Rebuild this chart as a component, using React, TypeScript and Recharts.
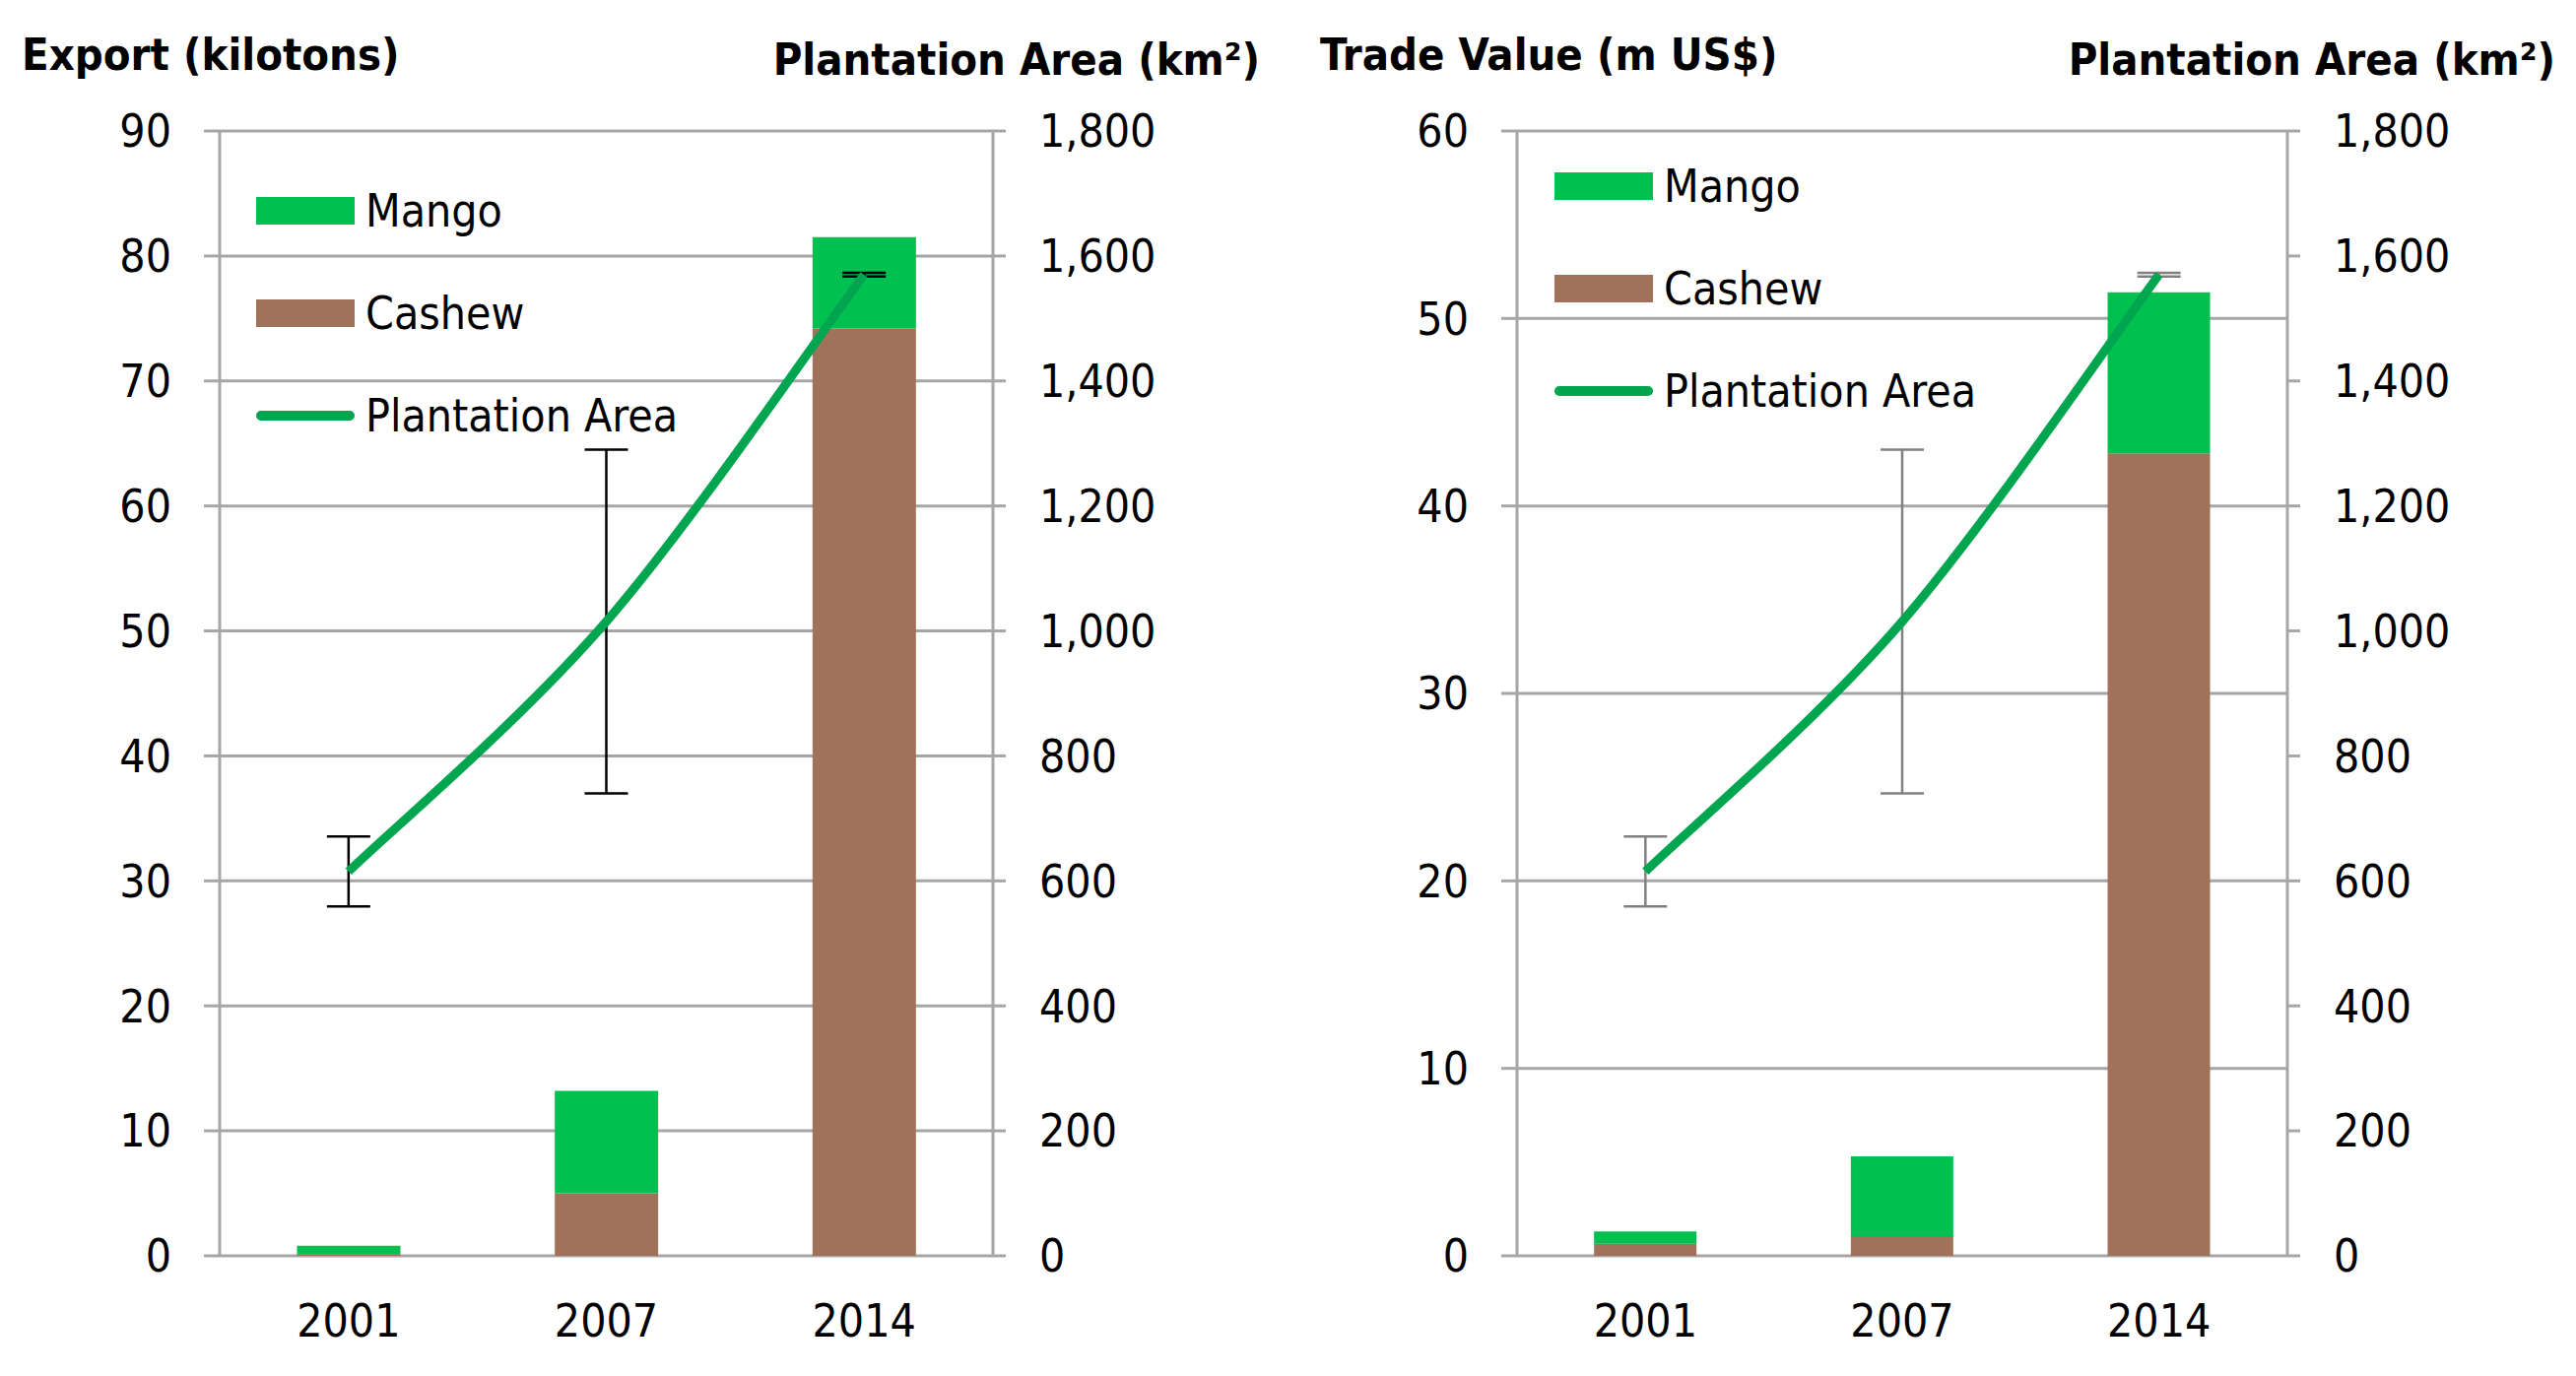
import React from 'react';
import {
  ComposedChart,
  Bar,
  Line,
  XAxis,
  YAxis,
  CartesianGrid,
  ErrorBar,
  Legend,
} from 'recharts';

// values
const YEARS = ['2001', '2007', '2014'];
const EXPORT_CASHEW = [0.1, 5.0, 74.2];
const EXPORT_MANGO = [0.7, 8.2, 7.3];
const TRADE_CASHEW = [0.65, 1.05, 42.8];
const TRADE_MANGO = [0.65, 4.25, 8.6];
const AREA = [615, 1015, 1570];
const AREA_ERR = [56, 275, 3];

const EXPORT_TICKS = [0, 10, 20, 30, 40, 50, 60, 70, 80, 90];
const TRADE_TICKS = [0, 10, 20, 30, 40, 50, 60];
const AREA_TICKS = [0, 200, 400, 600, 800, 1000, 1200, 1400, 1600, 1800];
const EDGE_TICKS = [0, 1, 2, 3];

const MANGO = '#00c050';
const CASHEW = '#a0725a';
const LINE = '#00a54f';
const GRID = '#a6a6a6';
const FONT = "'Liberation Sans Narrow', 'DejaVu Sans Condensed', sans-serif";
const TICK = { fill: '#000', fontSize: 46 };

const exportData = YEARS.map((year, i) => ({
  year,
  cashew: EXPORT_CASHEW[i],
  mango: EXPORT_MANGO[i],
  area: AREA[i],
  areaErr: AREA_ERR[i],
}));

const tradeData = YEARS.map((year, i) => ({
  year,
  cashew: TRADE_CASHEW[i],
  mango: TRADE_MANGO[i],
  area: AREA[i],
  areaErr: AREA_ERR[i],
}));

const fmtArea = (v: number) => v.toLocaleString('en-US');

// spreadsheet-style smoothed line (bezier with 1/6 tangents)
function smoothCurve(context: any) {
  let pts: number[][] = [];
  return {
    areaStart() {},
    areaEnd() {},
    lineStart() {
      pts = [];
    },
    point(x: number, y: number) {
      pts.push([+x, +y]);
    },
    lineEnd() {
      if (!pts.length) return;
      context.moveTo(pts[0][0], pts[0][1]);
      for (let i = 0; i < pts.length - 1; i++) {
        const p0 = pts[i - 1] || pts[i];
        const p1 = pts[i];
        const p2 = pts[i + 1];
        const p3 = pts[i + 2] || pts[i + 1];
        context.bezierCurveTo(
          p1[0] + (p2[0] - p0[0]) / 6,
          p1[1] + (p2[1] - p0[1]) / 6,
          p2[0] - (p3[0] - p1[0]) / 6,
          p2[1] - (p3[1] - p1[1]) / 6,
          p2[0],
          p2[1],
        );
      }
    },
  };
}

function LegendBox() {
  const rows = [
    { name: 'Mango', kind: 'box', color: MANGO },
    { name: 'Cashew', kind: 'box', color: CASHEW },
    { name: 'Plantation Area', kind: 'line', color: LINE },
  ];
  return (
    <div style={{ fontSize: 46, color: '#000', lineHeight: 1 }}>
      {rows.map((r) => (
        <div key={r.name} style={{ display: 'flex', alignItems: 'center', height: 104 }}>
          <div
            style={{
              width: 100,
              height: r.kind === 'box' ? 28 : 10,
              borderRadius: r.kind === 'box' ? 0 : 5,
              background: r.color,
              marginRight: 11,
            }}
          />
          <span>{r.name}</span>
        </div>
      ))}
    </div>
  );
}

type PanelProps = {
  data: typeof exportData;
  leftMax: number;
  leftTicks: number[];
  leftWidth: number;
  rightWidth: number;
  width: number;
  errColor: string;
  legendLeft: number;
  legendTop: number;
};

function Panel({ data, leftMax, leftTicks, leftWidth, rightWidth, width, errColor, legendLeft, legendTop }: PanelProps) {
  return (
    <ComposedChart
      width={width}
      height={1397}
      data={data}
      margin={{ top: 133, right: 0, bottom: 0, left: 0 }}
      barCategoryGap="30%"
    >
      <CartesianGrid yAxisId="left" vertical={false} stroke={GRID} strokeWidth={3} />
      <XAxis
        xAxisId="edges"
        type="number"
        domain={[0, 3]}
        ticks={EDGE_TICKS}
        tick={false}
        tickSize={16}
        height={0}
        axisLine={{ stroke: GRID, strokeWidth: 3 }}
        tickLine={{ stroke: GRID, strokeWidth: 3 }}
      />
      <XAxis
        dataKey="year"
        height={122}
        axisLine={false}
        tickLine={false}
        tickSize={0}
        tickMargin={49}
        tick={TICK}
      />
      <YAxis
        yAxisId="left"
        domain={[0, leftMax]}
        ticks={leftTicks}
        width={leftWidth}
        tickSize={16}
        tickMargin={33}
        tick={TICK}
        axisLine={{ stroke: GRID, strokeWidth: 3 }}
        tickLine={{ stroke: GRID, strokeWidth: 3 }}
      />
      <YAxis
        yAxisId="right"
        orientation="right"
        domain={[0, 1800]}
        ticks={AREA_TICKS}
        width={rightWidth}
        tickSize={13}
        tickMargin={34}
        tick={TICK}
        tickFormatter={fmtArea}
        axisLine={{ stroke: GRID, strokeWidth: 3 }}
        tickLine={{ stroke: GRID, strokeWidth: 3 }}
      />
      <Legend
        layout="horizontal"
        align="center"
        verticalAlign="middle"
        wrapperStyle={{ left: legendLeft, top: legendTop, width: 'auto' }}
        content={() => <LegendBox />}
      />
      <Bar yAxisId="left" dataKey="cashew" stackId="s" fill={CASHEW} isAnimationActive={false} />
      <Bar yAxisId="left" dataKey="mango" stackId="s" fill={MANGO} isAnimationActive={false} />
      <Line
        yAxisId="right"
        dataKey="area"
        type={smoothCurve as any}
        stroke={LINE}
        strokeWidth={9}
        dot={false}
        isAnimationActive={false}
      >
        <ErrorBar dataKey="areaErr" direction="y" width={22} stroke={errColor} strokeWidth={2.5} />
      </Line>
    </ComposedChart>
  );
}

const titleStyle: React.CSSProperties = {
  position: 'absolute',
  fontSize: 45,
  fontWeight: 'bold',
  lineHeight: 1,
  whiteSpace: 'nowrap',
  color: '#000',
};

export default function App() {
  return (
    <div style={{ position: 'relative', width: 2615, height: 1397, background: '#fff', fontFamily: FONT }}>
      <style>{'body{margin:0}'}</style>
      <div style={{ position: 'absolute', left: 0, top: 0 }}>
        <Panel
          data={exportData}
          leftMax={90}
          leftTicks={EXPORT_TICKS}
          leftWidth={223}
          rightWidth={299}
          width={1307}
          errColor="#000"
          legendLeft={260}
          legendTop={162}
        />
      </div>
      <div style={{ position: 'absolute', left: 1307, top: 0 }}>
        <Panel
          data={tradeData}
          leftMax={60}
          leftTicks={TRADE_TICKS}
          leftWidth={233}
          rightWidth={293}
          width={1308}
          errColor="#808080"
          legendLeft={271}
          legendTop={137}
        />
      </div>
      <div style={{ ...titleStyle, left: 22, top: 33 }}>Export (kilotons)</div>
      <div style={{ ...titleStyle, right: 2615 - 1279, top: 38 }}>Plantation Area (km²)</div>
      <div style={{ ...titleStyle, left: 1340, top: 33 }}>Trade Value (m US$)</div>
      <div style={{ ...titleStyle, right: 2615 - 2594, top: 38 }}>Plantation Area (km²)</div>
    </div>
  );
}
